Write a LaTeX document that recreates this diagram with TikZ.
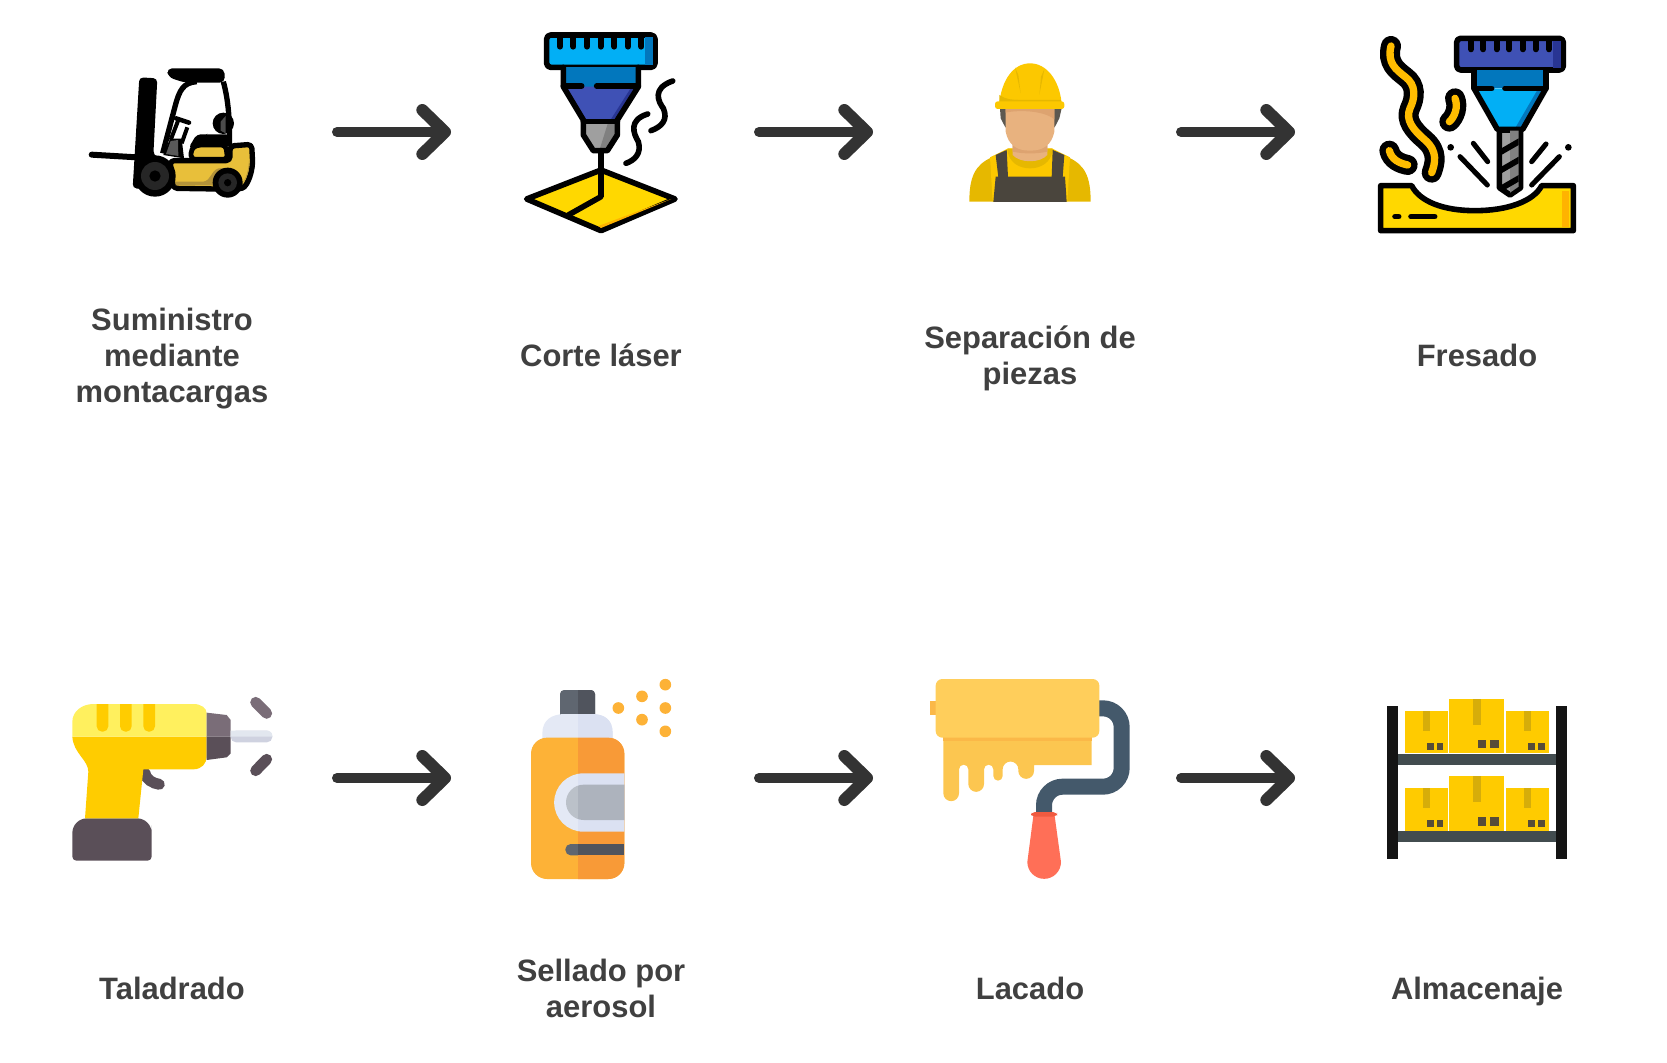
\documentclass[tikz,border=0pt]{standalone}
\usepackage{fontspec}
\setmainfont{Liberation Sans}
\usetikzlibrary{arrows.meta}
\definecolor{labelgray}{HTML}{404040}
\definecolor{arrowgray}{HTML}{333333}
\definecolor{liftyellow}{HTML}{E8BF3A}
\definecolor{liftdark}{HTML}{B3933A}
\definecolor{sheetyellow}{HTML}{FFD800}
\definecolor{sheetorange}{HTML}{FFB300}
\definecolor{chipyellow}{HTML}{FFBC00}
\definecolor{skyblue}{HTML}{02AFF5}
\definecolor{midblue}{HTML}{0277BD}
\definecolor{indigo}{HTML}{3F51B5}
\definecolor{darkindigo}{HTML}{283593}
\definecolor{helmetyellow}{HTML}{FCC800}
\definecolor{sleeveyellow}{HTML}{E6B800}
\definecolor{skin}{HTML}{E8B27F}
\definecolor{skindark}{HTML}{DDA370}
\definecolor{overall}{HTML}{4A453D}
\definecolor{drilltop}{HTML}{FFF05E}
\definecolor{drillyellow}{HTML}{FFCC00}
\definecolor{chucklight}{HTML}{7A6D78}
\definecolor{chuckdark}{HTML}{5A4F58}
\definecolor{bitlight}{HTML}{E2E7EF}
\definecolor{bitdark}{HTML}{CFD2E0}
\definecolor{canorange}{HTML}{FDB237}
\definecolor{candark}{HTML}{F89A37}
\definecolor{capgray}{HTML}{5F6670}
\definecolor{capdark}{HTML}{50545D}
\definecolor{tagwhite}{HTML}{E4E9F5}
\definecolor{tagdark}{HTML}{DBE1F2}
\definecolor{windowgray}{HTML}{BBC1C9}
\definecolor{windowdark}{HTML}{ADB3BD}
\definecolor{rolleryellow}{HTML}{FFCE5B}
\definecolor{paintyellow}{HTML}{FCC650}
\definecolor{paintedge}{HTML}{FBB848}
\definecolor{rollerblue}{HTML}{44596B}
\definecolor{rollerred}{HTML}{FF6F57}
\definecolor{ferrulered}{HTML}{F05A40}
\definecolor{boxyellow}{HTML}{FFCB00}
\definecolor{boxtape}{HTML}{D6AD0A}
\definecolor{boxmark}{HTML}{574C38}
\definecolor{shelfgray}{HTML}{424C4F}
\tikzset{
    steplabel/.style={font=\bfseries\fontsize{23.2}{27}\selectfont, text=labelgray, align=center},
    goarrow/.style={draw=arrowgray, line width=7.5pt, line cap=round, -{Straight Barb[round, line width=9pt, length=17pt, width=33pt]}},
    inkline/.style={draw=black, line width=4.2pt, line join=round, line cap=round},
    thinink/.style={draw=black, line width=3.8pt, line cap=round},
    chipout/.style={draw=black, line width=15pt, line cap=round},
    chipin/.style={draw=chipyellow, line width=5.5pt, line cap=round}
}
\begin{document}
\begin{tikzpicture}[x=0.75pt, y=-0.75pt]
    \useasboundingbox (0,0) rectangle (1667,1063);

    \node[steplabel] (lift) at (172,359) {Suministro\\mediante\\montacargas};
    \node[steplabel] (laser) at (601,355) {Corte láser};
    \node[steplabel] (worker) at (1030,358.5) {Separación de\\piezas};
    \node[steplabel] (mill) at (1477,355) {Fresado};
    \node[steplabel] (drill) at (172,988) {Taladrado};
    \node[steplabel] (spray) at (601,988) {Sellado por\\aerosol};
    \node[steplabel] (lacquer) at (1030,988) {Lacado};
    \node[steplabel] (store) at (1477,991) {Almacenaje};

    \coordinate (liftout) at (337,132);
    \coordinate (laserin) at (451,132);
    \coordinate (laserout) at (759,132);
    \coordinate (workerin) at (873,132);
    \coordinate (workerout) at (1181,132);
    \coordinate (millin) at (1295,132);
    \coordinate (drillout) at (337,778);
    \coordinate (sprayin) at (451,778);
    \coordinate (sprayout) at (759,778);
    \coordinate (lacquerin) at (873,778);
    \coordinate (lacquerout) at (1181,778);
    \coordinate (storein) at (1295,778);
    \draw[goarrow] (liftout) -- (laserin);
    \draw[goarrow] (laserout) -- (workerin);
    \draw[goarrow] (workerout) -- (millin);
    \draw[goarrow] (drillout) -- (sprayin);
    \draw[goarrow] (sprayout) -- (lacquerin);
    \draw[goarrow] (lacquerout) -- (storein);

    \begin{scope}[shift={(60,40)}, scale=1/3]
        \draw[black, line width=4.5pt, line cap=round] (95,344) -- (230,352);
        \fill[black, rounded corners=3pt] (238,112) -- (292,115) -- (280,345) -- (330,370) -- (330,450) -- (218,445) -- cycle;
        \fill[black, rounded corners=4pt] (320,85) -- (493,85) -- (495,128) -- (375,128) -- (325,112) -- cycle;
        \draw[black, line width=4pt] (308,340) -- (345,200) .. controls (358,150) and (370,128) .. (410,125);
        \draw[black, line width=4pt] (490,125) .. controls (505,180) and (510,240) .. (508,320);
        \fill[black] (490,250) circle [radius=32];
        \fill[black!70!white] (482,245) -- (497,228) -- (497,280) -- (482,272) -- cycle;
        \draw[black, line width=3.4pt, line cap=round] (348,235) -- (387,248);
        \draw[black, line width=3pt] (355,240) -- (332,300);
        \draw[black, line width=3pt] (382,262) -- (365,310);
        \fill[black] (310,345) -- (330,296) -- (365,296) -- (372,355) -- cycle;
        \fill[black!65!white] (318,342) -- (332,303) -- (354,300) -- (355,348) -- cycle;
        \fill[black, rounded corners=3pt] (410,283) -- (510,283) -- (510,320) -- (385,325) -- cycle;
        \filldraw[liftyellow, draw=black, line width=4pt, line join=round, rounded corners=3pt] (330,362) -- (510,362) -- (510,318) -- (575,313) -- (578,370) .. controls (572,410) and (560,440) .. (535,448) -- (340,445) -- cycle;
        \fill[liftdark] (567,362) .. controls (565,400) and (555,425) .. (540,436) .. controls (545,400) and (510,380) .. (475,385) .. controls (450,395) and (455,420) .. (430,425) -- (347,425) -- (347,436) -- (540,436) .. controls (555,425) and (570,400) .. (567,362) -- cycle;
        \filldraw[liftyellow, draw=black, line width=3.6pt, rounded corners=3pt] (393,358) -- (393,328) -- (410,315) -- (497,315) -- (503,358) -- cycle;
        \fill[black] (285,408) circle [radius=62];
        \fill[black!85!white] (285,408) circle [radius=42];
        \fill[black] (285,408) circle [radius=17];
        \fill[black] (503,428) circle [radius=45];
        \fill[black!85!white] (503,428) circle [radius=28];
        \fill[black] (503,428) circle [radius=11];
    \end{scope}

    \begin{scope}[shift={(500,20)}, scale=1/3]
        \filldraw[skyblue, inkline, rounded corners=3pt] (140,45) rectangle (465,142);
        \fill[midblue] (435,52) rectangle (458,135);
        \foreach \toothx in {180,220,261,302,343,384,424}
            \draw[black, line width=4.4pt, line cap=round] (\toothx,55) -- (\toothx,80);
        \fill[midblue] (190,142) rectangle (415,200);
        \fill[indigo] (190,200) -- (415,200) -- (345,310) -- (255,310) -- cycle;
        \fill[darkindigo] (395,200) -- (415,200) -- (345,310) -- (325,310) -- cycle;
        \fill[gray!75] (255,305) -- (345,305) -- (345,345) -- (320,385) -- (285,385) -- (255,345) -- cycle;
        \fill[gray] (325,305) -- (345,305) -- (345,345) -- (320,385) -- (300,385) -- cycle;
        \draw[inkline] (190,142) -- (190,200) -- (250,300) -- (250,345) -- (280,392) -- (322,392) -- (352,345) -- (352,300) -- (415,200) -- (415,142);
        \draw[inkline] (250,305) -- (352,305);
        \draw[inkline] (190,198) -- (245,198);
        \draw[inkline] (290,198) -- (415,198);
        \filldraw[sheetyellow, inkline] (80,537) -- (303,450) -- (525,537) -- (303,632) -- cycle;
        \fill[sheetorange] (295,618) -- (500,542) -- (514,537) -- (303,624) -- cycle;
        \draw[inkline] (303,392) -- (303,530) -- (205,585);
        \draw[inkline] (518,183) .. controls (455,205) and (475,245) .. (490,265) .. controls (505,300) and (485,320) .. (453,332);
        \draw[inkline] (443,282) .. controls (385,300) and (400,340) .. (415,365) .. controls (425,400) and (405,420) .. (378,430);
    \end{scope}

    \begin{scope}[shift={(950,50)}, scale=1/3]
        \fill[sleeveyellow] (58,455) .. controls (58,380) and (75,345) .. (125,322) -- (355,322) .. controls (405,345) and (422,380) .. (422,455) -- cycle;
        \fill[helmetyellow] (120,322) -- (175,295) -- (305,295) -- (360,322) -- (352,455) -- (128,455) -- cycle;
        \fill[sleeveyellow] (172,296) -- (308,296) .. controls (305,340) and (270,355) .. (240,355) .. controls (210,355) and (175,340) .. (172,296) -- cycle;
        \fill[overall!90!white] (150,175) -- (335,175) -- (328,205) -- (314,232) -- (166,232) -- (152,205) -- cycle;
        \fill[skin] (188,270) -- (292,270) -- (292,315) .. controls (270,340) and (210,340) .. (188,315) -- cycle;
        \fill[skindark] (188,285) -- (292,285) -- (292,305) .. controls (260,312) and (220,312) .. (188,305) -- cycle;
        \fill[skin] (167,175) -- (313,175) -- (313,245) .. controls (305,285) and (280,302) .. (240,302) .. controls (200,302) and (175,285) .. (167,245) -- cycle;
        \fill[skindark] (167,175) -- (313,175) -- (313,208) .. controls (280,180) and (200,180) .. (167,188) -- cycle;
        \fill[overall] (137,315) -- (170,300) -- (174,382) -- (145,382) -- cycle;
        \fill[overall] (343,315) -- (308,300) -- (305,382) -- (338,382) -- cycle;
        \fill[overall] (137,380) -- (345,380) -- (350,456) -- (130,456) -- cycle;
        \fill[helmetyellow] (148,160) .. controls (155,90) and (190,40) .. (240,40) .. controls (290,40) and (328,90) .. (335,160) -- cycle;
        \fill[sleeveyellow] (148,135) .. controls (165,148) and (190,150) .. (205,150) -- (148,155) -- cycle;
        \fill[sleeveyellow] (195,52) -- (212,130) -- (205,75) -- cycle;
        \fill[sleeveyellow] (283,58) -- (268,135) -- (273,80) -- cycle;
        \fill[sleeveyellow] (150,150) -- (332,150) -- (335,158) -- (148,158) -- cycle;
        \fill[helmetyellow, rounded corners=2pt] (135,154) rectangle (343,177);
    \end{scope}

    \begin{scope}[shift={(1360,20)}, scale=1/3]
        \draw[chipout] (93,78) .. controls (80,130) and (110,150) .. (135,170) .. controls (170,195) and (165,235) .. (150,265) .. controls (135,300) and (160,330) .. (195,360) .. controls (235,395) and (225,430) .. (215,458);
        \draw[chipin] (93,78) .. controls (80,130) and (110,150) .. (135,170) .. controls (170,195) and (165,235) .. (150,265) .. controls (135,300) and (160,330) .. (195,360) .. controls (235,395) and (225,430) .. (215,458);
        \draw[chipout] (285,235) .. controls (295,260) and (285,290) .. (268,305);
        \draw[chipin] (285,235) .. controls (295,260) and (285,290) .. (268,305);
        \draw[chipout] (88,392) .. controls (95,420) and (120,430) .. (143,435);
        \draw[chipin] (88,392) .. controls (95,420) and (120,430) .. (143,435);
        \filldraw[indigo, inkline, rounded corners=3pt] (290,55) rectangle (610,150);
        \fill[darkindigo] (578,62) rectangle (602,143);
        \foreach \toothx in {333,370,410,448,488,527,567}
            \draw[black, line width=4.4pt, line cap=round] (\toothx,65) -- (\toothx,88);
        \fill[midblue] (342,150) rectangle (558,205);
        \fill[skyblue] (342,205) -- (558,205) -- (490,325) -- (415,325) -- cycle;
        \fill[midblue] (535,205) -- (558,205) -- (490,325) -- (465,325) -- cycle;
        \draw[inkline] (342,150) -- (342,205) -- (412,328) -- (488,328) -- (558,205) -- (558,150);
        \draw[inkline] (342,205) -- (395,205);
        \draw[inkline] (435,205) -- (558,205);
        \filldraw[gray!75, inkline] (418,330) -- (482,330) -- (482,503) -- (450,525) -- (418,503) -- cycle;
        \fill[gray] (450,332) -- (476,332) -- (476,500) -- (450,518) -- cycle;
        \foreach \twisty in {0,55,110}
            \fill[black] (424,\twisty+385) -- (476,\twisty+355) -- (476,\twisty+375) -- (424,\twisty+405) -- cycle;
        \draw[thinink] (340,370) -- (383,425);
        \draw[thinink] (300,410) -- (382,495);
        \draw[thinink] (558,372) -- (515,425);
        \draw[thinink] (598,410) -- (515,495);
        \fill[black] (272,382) circle [radius=10];
        \fill[black] (625,382) circle [radius=10];
        \filldraw[sheetyellow, inkline] (62,497) -- (155,497) .. controls (180,545) and (250,572) .. (345,572) .. controls (440,572) and (520,545) .. (545,497) -- (640,497) -- (640,632) -- (62,632) -- cycle;
        \fill[sheetorange] (607,512) rectangle (627,620);
        \draw[inkline] (105,590) -- (116,590);
        \draw[inkline] (153,590) -- (224,590);
    \end{scope}

    \begin{scope}[shift={(60,680)}, scale=1/3]
        \draw[chuckdark, line width=8.2pt, line cap=round] (255,278) .. controls (258,300) and (280,310) .. (298,313);
        \fill[chuckdark] (37,480) [rounded corners=11pt] -- (37,415) -- (275,415) -- (275,480) [rounded corners=3pt] -- (275,542) -- (37,542) -- cycle;
        \fill[drillyellow] (37,170) .. controls (40,220) and (85,240) .. (85,275) -- (75,415) -- (235,415) -- (250,268) -- (400,268) .. controls (425,268) and (440,250) .. (440,230) -- (440,170) -- cycle;
        \fill[drilltop] (37,170) -- (37,125) .. controls (37,95) and (65,72) .. (100,72) -- (400,72) .. controls (425,72) and (440,85) .. (440,100) -- (440,170) -- cycle;
        \foreach \stripex in {110,180,250}
            \fill[drillyellow, rounded corners=4pt] (\stripex,72) -- (\stripex,155) -- (\stripex+35,155) -- (\stripex+35,72);
        \fill[chucklight] (440,98) -- (500,105) -- (512,120) -- (512,170) -- (440,170) -- cycle;
        \fill[chuckdark] (440,170) -- (512,170) -- (512,220) -- (500,232) -- (440,240) -- cycle;
        \fill[bitdark, rounded corners=4pt] (512,152) rectangle (637,187);
        \fill[bitlight] (512,152) -- (625,152) .. controls (632,152) and (637,160) .. (637,170) -- (512,170) -- cycle;
        \draw[chucklight, line width=8.2pt, line cap=round] (587,67) -- (620,100);
        \draw[chuckdark, line width=8.2pt, line cap=round] (620,238) -- (587,272);
    \end{scope}

    \begin{scope}[shift={(510,670)}, scale=1/3]
        \fill[capgray, rounded corners=3pt] (150,145) -- (150,60) -- (255,60) -- (255,145) -- cycle;
        \fill[tagwhite] (97,210) -- (97,190) .. controls (97,150) and (125,132) .. (165,132) -- (245,132) .. controls (285,132) and (308,150) .. (308,190) -- (308,210) -- cycle;
        \fill[canorange, rounded corners=12pt] (63,203) rectangle (343,627);
        \fill[tagwhite] (343,310) -- (220,310) arc [start angle=-90, end angle=-270, radius=87.5] -- (343,485) -- cycle;
        \fill[windowgray] (343,344) -- (221,344) arc [start angle=-90, end angle=-270, radius=53] -- (343,450) -- cycle;
        \fill[capgray, rounded corners=4pt] (204,522) -- (166,522) -- (166,556) -- (204,556);
        \begin{scope}
            \clip (204,0) rectangle (343,700);
            \fill[capdark, rounded corners=3pt] (150,145) -- (150,60) -- (255,60) -- (255,145) -- cycle;
            \fill[tagdark] (97,210) -- (97,190) .. controls (97,150) and (125,132) .. (165,132) -- (245,132) .. controls (285,132) and (308,150) .. (308,190) -- (308,210) -- cycle;
            \fill[candark, rounded corners=12pt] (63,203) rectangle (343,627);
            \fill[tagdark] (343,310) -- (220,310) arc [start angle=-90, end angle=-270, radius=87.5] -- (343,485) -- cycle;
            \fill[windowdark] (343,344) -- (221,344) arc [start angle=-90, end angle=-270, radius=53] -- (343,450) -- cycle;
            \fill[capdark] (190,522) rectangle (343,556);
        \end{scope}
        \foreach \dotx/\doty in {325/114, 396/79, 396/149, 466/44, 466/114, 466/184}
            \fill[canorange] (\dotx,\doty) circle [radius=17.5];
    \end{scope}

    \begin{scope}[shift={(920,670)}, scale=1/3]
        \draw[rollerblue, line width=12pt, rounded corners=14pt] (530,115) -- (605,115) -- (605,350) -- (372,350) -- (372,430);
        \fill[paintedge] (30,92) rectangle (50,134);
        \fill[paintyellow] (70,200) -- (515,200) -- (515,285) -- (342,285) -- (342,303) arc [start angle=0, end angle=180, radius=23.5] -- (295,298) arc [start angle=0, end angle=-180, radius=23.5] -- (248,318) arc [start angle=0, end angle=180, radius=14] -- (220,298) arc [start angle=0, end angle=-180, radius=14] -- (192,342) arc [start angle=0, end angle=180, radius=23.5] -- (145,298) arc [start angle=0, end angle=-180, radius=14] -- (117,370) arc [start angle=0, end angle=180, radius=23.5] -- cycle;
        \fill[paintedge] (70,200) rectangle (515,214);
        \fill[rolleryellow, rounded corners=5pt] (47,27) rectangle (538,203);
        \fill[rollerred] (340,438) -- (404,438) -- (423,576) arc [start angle=0, end angle=180, radius=50.5] -- cycle;
        \fill[ferrulered, rounded corners=3pt] (333,426) rectangle (411,440);
    \end{scope}

    \begin{scope}[shift={(1370,690)}, scale=1/3]
        \foreach \shelfy in {0,232} {
            \fill[boxyellow] (104,63+\shelfy) rectangle (233,190+\shelfy);
            \fill[boxyellow] (238,27+\shelfy) rectangle (403,190+\shelfy);
            \fill[boxyellow] (409,63+\shelfy) rectangle (538,190+\shelfy);
            \fill[boxtape] (158,63+\shelfy) rectangle (180,123+\shelfy);
            \fill[boxtape] (308,27+\shelfy) rectangle (334,105+\shelfy);
            \fill[boxtape] (463,63+\shelfy) rectangle (484,123+\shelfy);
            \foreach \markx in {171,200,475,504}
                \fill[boxmark] (\markx,159+\shelfy) rectangle (\markx+20,179+\shelfy);
            \foreach \markx in {324,361}
                \fill[boxmark] (\markx,150+\shelfy) rectangle (\markx+25,175+\shelfy);
            \fill[shelfgray] (85,191+\shelfy) rectangle (557,225+\shelfy);
        }
        \fill[black!92!white] (51,47) rectangle (85,507);
        \fill[black!92!white] (557,47) rectangle (591,507);
    \end{scope}
\end{tikzpicture}
\end{document}
